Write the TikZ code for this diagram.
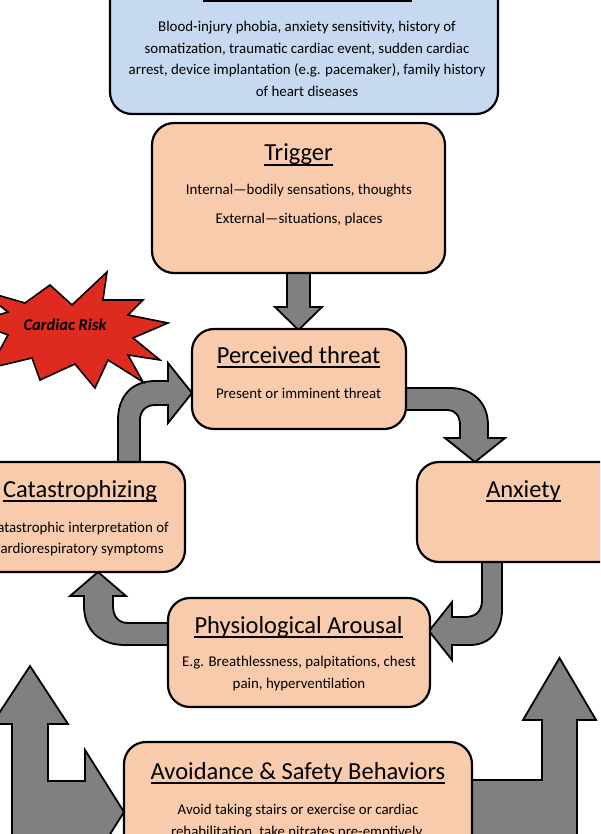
\documentclass[tikz,border=0pt]{standalone}
\usepackage{fontspec}
\setmainfont{Carlito}
\usetikzlibrary{calc}
\definecolor{peach}{HTML}{F8CBAD}
\definecolor{lblue}{HTML}{C6D9F0}
\definecolor{agray}{HTML}{808080}
\definecolor{burstred}{HTML}{DF2A20}
\pgfdeclarelayer{bg}
\pgfsetlayers{bg,main}
\begin{document}
\begin{tikzpicture}[x=1pt,y=-1pt,
  box/.style={draw=black, line width=2.2pt, rounded corners=22pt, fill=peach, inner sep=0pt},
  bluebox/.style={box, fill=lblue},
  blockarrow/.style={draw=black, line width=1.8pt, fill=agray, line join=miter},
  ttl/.style={anchor=base, inner sep=0pt, font=\fontsize{24.5}{29}\selectfont},
  txt/.style={anchor=base, inner sep=0pt, font=\fontsize{14.9}{21.5}\selectfont},
  uline/.style={line width=1.6pt}]
\useasboundingbox (0,0) rectangle (600,834);
\clip (0,0) rectangle (600,834);

% boxes
\node[bluebox, minimum width=388pt, minimum height=200pt] (risk) at (304,14) {};
\node[box, minimum width=293pt, minimum height=150pt] (trig) at (298.5,198) {};
\node[box, minimum width=214pt, minimum height=100pt] (pt) at (299,379) {};
\node[box, minimum width=212pt, minimum height=100pt] (anx) at (523,512) {};
\node[box, minimum width=210pt, minimum height=110pt] (cat) at (80,517) {};
\node[box, minimum width=262pt, minimum height=109pt] (phy) at (299,652.5) {};
\node[box, minimum width=348pt, minimum height=160pt] (avo) at (298,822) {};

% block arrows
\begin{pgfonlayer}{bg}
\path[blockarrow] (287,260) -- (287,307) -- (275,307) -- (298.5,330) -- (322,307) -- (310,307) -- (310,260) -- cycle;
\path[blockarrow] (395,388) -- (450,388) .. controls (472,388) and (488,402) .. (488,425) -- (488,438) -- (505,438) -- (475,462) -- (445,438) -- (460,438) -- (460,425) .. controls (460,416) and (455,410) .. (448,410) -- (395,410) -- cycle;
\path[blockarrow] (482,550) -- (482,600) .. controls (482,611) and (476,617) .. (465,617) -- (452,617) -- (452,602) -- (429,631) -- (452,660) -- (452,645) -- (470,645) .. controls (490,645) and (502,630) .. (502,610) -- (502,550) -- cycle;
\path[blockarrow] (180,623) -- (128,623) .. controls (118,623) and (113,616) .. (113,606) -- (113,596) -- (126,596) -- (98,572) -- (70,596) -- (84,596) -- (84,606) .. controls (84,630) and (100,645) .. (125,645) -- (180,645) -- cycle;
\path[blockarrow] (118,475) -- (118,420) .. controls (118,396) and (132,381) .. (155,381) -- (168,381) -- (168,363) -- (192,393) -- (168,423) -- (168,405) -- (155,405) .. controls (146,405) and (140,411) .. (140,420) -- (140,475) -- cycle;
\path[blockarrow] (12,880) -- (12,724) -- (-8,724) -- (30,666) -- (68,724) -- (48,724) -- (48,781) -- (85,781) -- (85,750) -- (124,812) -- (85,874) -- (85,880) -- cycle;
\path[blockarrow] (460,780) -- (542,780) -- (542,720) -- (523,720) -- (559.5,658) -- (596,720) -- (577,720) -- (577,880) -- (460,880) -- cycle;
\end{pgfonlayer}

% burst
\path[draw=black, line width=1.6pt, fill=burstred, line join=miter]
 (-20,290) -- (25,303) -- (50,285) -- (72,305) -- (107,272) -- (103,300) -- (143,300) -- (128,315)
 -- (168,323) -- (133,338) -- (160,360) -- (128,355) -- (143,382) -- (108,360) -- (95,388) -- (75,364)
 -- (40,380) -- (32,358) -- (-10,368) -- (8,335) -- (-25,322) -- (8,312) -- cycle;
\node[inner sep=0pt, font=\fontsize{16.5}{20}\selectfont\bfseries\itshape] (risklabel) at (65,325) {Cardiac Risk};

% blue box text
\draw[uline] (203,1) -- (412,1);
\node[txt] (r1) at (307,32) {Blood-injury phobia, anxiety sensitivity, history of};
\node[txt] (r2) at (307,53.4) {somatization, traumatic cardiac event, sudden cardiac};
\node[txt] (r3) at (307,74.8) {arrest, device implantation (e.g. pacemaker), family history};
\node[txt] (r4) at (307,96.2) {of heart diseases};

% trigger
\node[ttl] (trigT) at (298.5,161) {Trigger};
\draw[uline] ([yshift=-4pt]trigT.base west) -- ([yshift=-4pt]trigT.base east);
\node[txt] (trig1) at (299,195) {Internal—bodily sensations, thoughts};
\node[txt] (trig2) at (299,224) {External—situations, places};

% perceived threat
\node[ttl] (ptT) at (298.5,363) {Perceived threat};
\draw[uline] ([yshift=-4pt]ptT.base west) -- ([yshift=-4pt]ptT.base east);
\node[txt] (pt1) at (298.5,398) {Present or imminent threat};

% anxiety
\node[ttl] (anxT) at (523.5,497) {Anxiety};
\draw[uline] ([yshift=-4pt]anxT.base west) -- ([yshift=-4pt]anxT.base east);

% catastrophizing
\node[ttl] (catT) at (80,497) {Catastrophizing};
\draw[uline] ([yshift=-4pt]catT.base west) -- ([yshift=-4pt]catT.base east);
\node[txt] (cat1) at (79,532) {Catastrophic interpretation of};
\node[txt] (cat2) at (79,553) {cardiorespiratory symptoms};

% physiological arousal
\node[ttl] (phyT) at (298.5,633) {Physiological Arousal};
\draw[uline] ([yshift=-4pt]phyT.base west) -- ([yshift=-4pt]phyT.base east);
\node[txt] (phy1) at (299,666) {E.g. Breathlessness, palpitations, chest};
\node[txt] (phy2) at (299,688) {pain, hyperventilation};

% avoidance
\node[ttl] (avoT) at (298,779) {Avoidance \& Safety Behaviors};
\draw[uline] ([yshift=-4pt]avoT.base west) -- ([yshift=-4pt]avoT.base east);
\node[txt] (avo1) at (298,814) {Avoid taking stairs or exercise or cardiac};
\node[txt] (avo2) at (298,836) {rehabilitation, take nitrates pre-emptively,};
\end{tikzpicture}
\end{document}
